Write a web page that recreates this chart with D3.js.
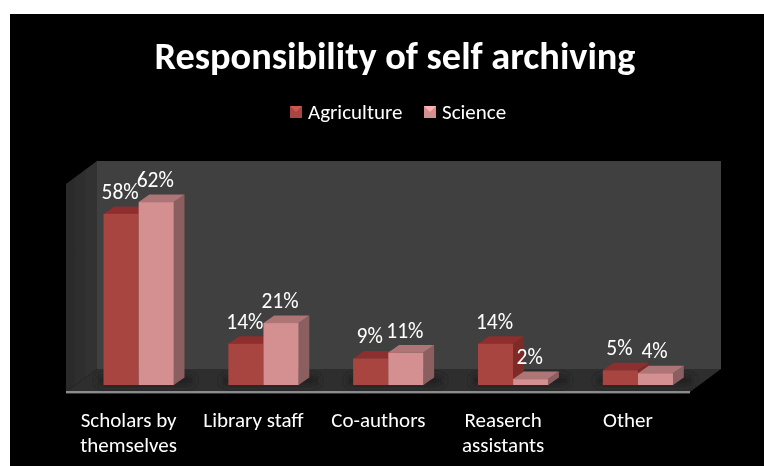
<!DOCTYPE html>
<html><head><meta charset="utf-8">
<script src="https://cdn.jsdelivr.net/npm/d3@7"></script>
<style>html,body{margin:0;padding:0;background:#fff}svg{display:block}text{font-family:Carlito,Lato,"Open Sans",sans-serif;fill:#fff}</style>
</head><body><svg id="c" width="764" height="466"></svg>
<script>
const titleText = "Responsibility of self archiving";
const categories = ["Scholars by themselves","Library staff","Co-authors","Reaserch assistants","Other"];
const seriesNames = ["Agriculture","Science"];
const agriculture = [58,14,9,14,5];
const science = [62,21,11,2,4];
const seriesColors = [
  {front:"#a94541",top:"#8e2f2d",side:"#7e2a28"},
  {front:"#d48f90",top:"#ae7576",side:"#8b5e5e"}];

const svg = d3.select("#c");
const defs = svg.append("defs");
const soft = defs.append("filter").attr("id","soft");
soft.append("feGaussianBlur").attr("stdDeviation",0.5);
const shadow = defs.append("filter").attr("id","shadow").attr("x","-30%").attr("width","160%").attr("y","-100%").attr("height","300%");
shadow.append("feGaussianBlur").attr("stdDeviation",3);
const lw = defs.append("linearGradient").attr("id","lw");
lw.append("stop").attr("offset",0).attr("stop-color","#2a2a2a");
lw.append("stop").attr("offset",1).attr("stop-color","#333333");

const depth = {dx:10.7, dy:-7.5};
const x = d3.scaleBand().domain(categories).range([76.3,700.3]).paddingInner(0.437).paddingOuter(0.218);
const inner = d3.scaleBand().domain(seriesNames).range([0,x.bandwidth()]);
const y = d3.scaleLinear().domain([0,70]).range([385,178.5]);
const frame = {left:66, right:690, wallDx:31, wallDy:-23, floor:392};
const wallTop = y(70)+5.5;

svg.append("rect").attr("x",10).attr("y",14).attr("width",754).attr("height",452).attr("fill","#000");
const plot = svg.append("g").attr("filter","url(#soft)");
const poly = (pts,fill)=>plot.append("polygon").attr("points",pts.map(p=>p.join(",")).join(" ")).attr("fill",fill);
const bx = frame.left+frame.wallDx, bxr = frame.right+frame.wallDx, by = frame.floor+frame.wallDy, bt = wallTop+frame.wallDy;
poly([[bx,bt],[bxr,bt],[bxr,by],[bx,by]],"#3f3f3f");
poly([[frame.left,wallTop],[bx,bt],[bx,by],[frame.left,frame.floor]],"url(#lw)");
poly([[frame.left,frame.floor],[bx,by],[bxr,by],[frame.right,frame.floor]],"#2e2e2e");
plot.append("rect").attr("x",frame.left).attr("y",frame.floor-1).attr("width",frame.right-frame.left).attr("height",2.4).attr("fill","#8c8c8c");

categories.forEach(c=>{
  plot.append("rect").attr("x",x(c)-6).attr("y",y(0)-9).attr("width",x.bandwidth()+26).attr("height",9).attr("fill","#202020").attr("filter","url(#shadow)");
});

const values = [agriculture,science];
categories.forEach((c,i)=>{
  seriesNames.forEach((s,k)=>{
    const col = seriesColors[k], l = x(c)+inner(s), r = l+inner.bandwidth(), t = y(values[k][i]), b = y(0);
    poly([[r,t],[r+depth.dx,t+depth.dy],[r+depth.dx,b+depth.dy],[r,b]],col.side);
    poly([[l,t],[l+depth.dx,t+depth.dy],[r+depth.dx,t+depth.dy],[r,t]],col.top);
    plot.append("rect").attr("x",l).attr("y",t).attr("width",r-l).attr("height",b-t).attr("fill",col.front);
  });
});

const textG = svg.append("g").attr("filter","url(#soft)");
categories.forEach((c,i)=>{
  seriesNames.forEach((s,k)=>{
    textG.append("text").attr("x",x(c)+inner(s)+inner.bandwidth()/2-1).attr("y",y(values[k][i])-15)
      .attr("text-anchor","middle").attr("font-size",21.5).text(values[k][i]+"%");
  });
});

textG.append("text").attr("x",395).attr("y",69).attr("text-anchor","middle").attr("font-size",38.3).attr("font-weight",700).text(titleText);

const legendX = [290,424];
seriesNames.forEach((s,k)=>{
  const X = legendX[k], Y = 106, S = 12, col = seriesColors[k];
  textG.append("rect").attr("x",X).attr("y",Y).attr("width",S).attr("height",S).attr("fill",col.front);
  textG.append("polygon").attr("points",`${X},${Y} ${X+S},${Y} ${X+S/2},${Y+S/2}`).attr("fill",d3.color(col.front).brighter(0.6));
  textG.append("text").attr("x",X+18).attr("y",Y+12.5).attr("font-size",21).text(s);
});

// category axis, shifted back by the depth of the bars, labels wrapped to two lines
const axis = d3.axisBottom(x).tickSize(0).tickPadding(0);
const ax = textG.append("g").attr("transform","translate(-10,409)").call(axis);
ax.select(".domain").remove();
ax.selectAll("text").attr("font-size",21).attr("fill","#fff").style("font-family","Carlito,Lato,sans-serif").each(function(d){
  const t = d3.select(this); const words = d.split(" ");
  const lines = []; let cur = "";
  words.forEach(w=>{ const n = cur?cur+" "+w:w; if(n.length>13&&cur){lines.push(cur);cur=w;} else cur=n; });
  lines.push(cur);
  t.text(null).attr("y",18).attr("dy",null);
  lines.forEach((ln,j)=>t.append("tspan").attr("x",0).attr("dy",j?25:0).text(ln));
});
</script></body></html>
